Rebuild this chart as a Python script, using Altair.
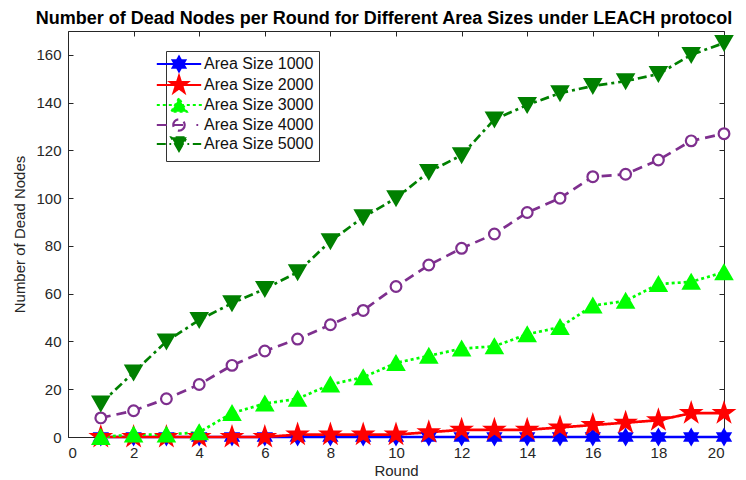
import altair as alt
import pandas as pd

rounds = list(range(1, 21))
series_names = ["Area Size 1000", "Area Size 2000", "Area Size 3000", "Area Size 4000", "Area Size 5000"]
area_1000 = [0] * 20
area_2000 = [0, 0, 0, 0, 0, 0, 1, 1, 1, 1, 2, 3, 3, 3, 4, 5, 6, 7, 10, 10]
area_3000 = [0, 1, 1, 2, 10, 14, 16, 22, 25, 31, 34, 37, 38, 43, 46, 55, 57, 64, 65, 69]
area_4000 = [8, 11, 16, 22, 30, 36, 41, 47, 53, 63, 72, 79, 85, 94, 100, 109, 110, 116, 124, 127]
area_5000 = [14, 27, 40, 49, 56, 62, 69, 82, 92, 100, 111, 118, 133, 139, 144, 147, 149, 152, 160, 165]

colors = ["#0000FF", "#FF0000", "#00FF00", "#7E2F8E", "#008000"]
fills = ["#0000FF", "#FF0000", "#00FF00", "#FFFFFF", "#008000"]
dashes = [[1, 0], [1, 0], [3, 3], [10, 6], [9, 4, 3, 4]]
marker_sizes = [210, 360, 250, 115, 250]


def fmt(v):
    return f"{v:.3f}".rstrip("0").rstrip(".")


def hexagram(r=1.0, cx=0.0):
    pts = [(0, -1), (0.2887, -0.5), (0.866, -0.5), (0.577, 0), (0.866, 0.5), (0.2887, 0.5),
           (0, 1), (-0.2887, 0.5), (-0.866, 0.5), (-0.577, 0), (-0.866, -0.5), (-0.2887, -0.5)]
    return "M" + "L".join(f"{fmt(cx + x * r)},{fmt(y * r)}" for x, y in pts) + "Z"


def pentagram(r=1.0, cx=0.0):
    pts = [(0, -1), (0.2245, -0.309), (0.951, -0.309), (0.363, 0.118), (0.588, 0.809), (0, 0.382),
           (-0.588, 0.809), (-0.363, 0.118), (-0.951, -0.309), (-0.2245, -0.309)]
    return "M" + "L".join(f"{fmt(cx + x * r)},{fmt(y * r)}" for x, y in pts) + "Z"


def tri(r=1.0, up=True):
    h = 0.866 * r
    s = -1 if up else 1
    return f"M0,{fmt(s * h)}L{fmt(-r)},{fmt(-s * h)}L{fmt(r)},{fmt(-s * h)}Z"


def circ(r=1.0):
    return f"M{fmt(r)},0A{fmt(r)},{fmt(r)} 0 1,1 {fmt(-r)},0A{fmt(r)},{fmt(r)} 0 1,1 {fmt(r)},0Z"


def segs(pairs):
    return "".join(f"M{fmt(a)},0L{fmt(b)},0" for a, b in pairs)


plot_shapes = [hexagram(), pentagram(), "triangle-up", "circle", "triangle-down"]

L = 3.7
legend_shapes = [
    segs([(-L, L)]) + hexagram(1.2),
    segs([(-L, L)]) + pentagram(1.5),
    segs([(x / 10, x / 10 + 0.5) for x in range(-37, 37, 10)]) + tri(1.3, True),
    segs([(-L, -2.0), (-1.0, 0.7), (2.9, 3.2)]) + circ(0.95),
    segs([(-L, -2.2), (-1.6, -1.3), (-0.7, 0.8), (1.4, 1.7), (2.3, L)]) + tri(1.3, False),
]

values = [area_1000, area_2000, area_3000, area_4000, area_5000]
rows = []
for name, vals in zip(series_names, values):
    for r, v in zip(rounds, vals):
        rows.append({"Round": r, "Dead": v, "Series": name})
df = pd.DataFrame(rows)

FONT = "Liberation Sans"
TXT = "#262626"
xscale = alt.Scale(domain=[0, 20], nice=False, zero=False)
yscale = alt.Scale(domain=[0, 170], nice=False)

x_enc = alt.X("Round:Q", scale=xscale,
              axis=alt.Axis(title="Round", values=list(range(0, 21, 2)), grid=False, domain=False,
                            tickSize=5, offset=-5, labelPadding=8, tickColor=TXT,
                            labelFontSize=15, titleFontSize=15, titleFontWeight="normal",
                            labelColor=TXT, titleColor=TXT, titlePadding=3,
                            labelFont=FONT, titleFont=FONT))
y_enc = alt.Y("Dead:Q", scale=yscale,
              axis=alt.Axis(title="Number of Dead Nodes", values=list(range(0, 161, 20)), grid=False,
                            domain=False, tickSize=5, offset=-5, labelPadding=7, tickColor=TXT,
                            labelFontSize=15, titleFontSize=15, titleFontWeight="normal",
                            labelColor=TXT, titleColor=TXT, titlePadding=8,
                            labelFont=FONT, titleFont=FONT))

stroke_scale = alt.Scale(domain=series_names, range=colors)
fill_scale = alt.Scale(domain=series_names, range=fills)

leg = alt.Legend(title=None, orient="none", legendX=98, legendY=20,
                 fillColor="white", strokeColor="#333333", padding=5,
                 labelFont=FONT, labelFontSize=16, labelColor="#111111",
                 rowPadding=-5, symbolSize=144, symbolStrokeWidth=2.2, symbolOpacity=1,
                 labelOffset=17, offset=0)

# legend-only layer: no data rows survive the filter, the legend comes from the scale domains
legend_layer = alt.Chart(df).transform_filter(alt.datum.Round > 1000).mark_point(filled=True).encode(
    x=x_enc, y=y_enc,
    stroke=alt.Stroke("Series:N", scale=stroke_scale, legend=leg),
    fill=alt.Fill("Series:N", scale=fill_scale, legend=leg),
    shape=alt.Shape("Series:N", scale=alt.Scale(domain=series_names, range=legend_shapes), legend=leg),
)

lines = alt.Chart(df).mark_line(strokeWidth=2.7).encode(
    x=x_enc, y=y_enc,
    stroke=alt.Stroke("Series:N", scale=stroke_scale),
    strokeDash=alt.StrokeDash("Series:N", scale=alt.Scale(domain=series_names, range=dashes), legend=None),
    order="Round:Q",
)

point_layers = []
for name, col, fc, shp, sz in zip(series_names, colors, fills, plot_shapes, marker_sizes):
    point_layers.append(
        alt.Chart(df).transform_filter(alt.datum.Series == name).mark_point(
            shape=shp, size=sz, stroke=col, fill=fc, strokeWidth=2.2, opacity=1, filled=True
        ).encode(x=x_enc, y=y_enc)
    )

inner = alt.layer(legend_layer, lines, *point_layers)

ghost = alt.Chart(df).mark_point(opacity=0).encode(
    x=alt.X("Round:Q", scale=xscale,
            axis=alt.Axis(orient="top", title=None, labels=False, values=list(range(0, 21, 2)), grid=False,
                          domain=False, tickSize=5, offset=-5, tickColor=TXT)),
    y=alt.Y("Dead:Q", scale=yscale,
            axis=alt.Axis(orient="right", title=None, labels=False, values=list(range(0, 161, 20)),
                          grid=False, domain=False, tickSize=5, offset=-5, tickColor=TXT)),
)

chart = alt.layer(inner, ghost).resolve_scale(x="independent", y="independent").properties(
    width=656, height=406,
    title=alt.TitleParams("Number of Dead Nodes per Round for Different Area Sizes under LEACH protocol",
                          font=FONT, fontSize=18, fontWeight="bold", color="#000000", anchor="middle",
                          offset=3, dx=-12),
    padding={"left": 60, "top": 23, "right": 14, "bottom": 41},
    autosize=alt.AutoSizeParams(type="none"),
).configure_view(stroke=TXT, strokeWidth=1)

chart.save("out.html", embed_options={"renderer": "svg", "actions": False})
